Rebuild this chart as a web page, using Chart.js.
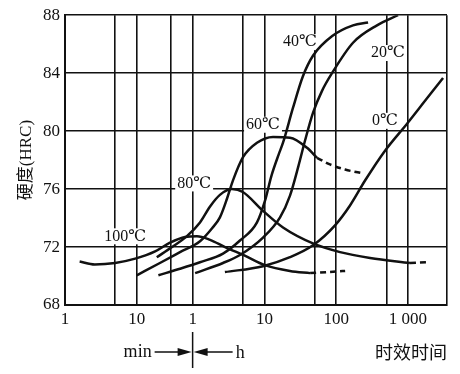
<!DOCTYPE html>
<html>
<head>
<meta charset="utf-8">
<script src="https://cdn.jsdelivr.net/npm/chart.js"></script>
<style>
  html, body { margin: 0; background: #fff; }
  #wrap { width: 460px; height: 374px; }
</style>
</head>
<body>
<div id="wrap"><canvas id="chart"></canvas></div>
<script>
// x values are ageing time in minutes (1 h = 60 min), y values are HRC
const gridMinutes = [1, 5, 10, 30, 60, 300, 600, 3000, 6000, 30000, 60000, 210000];
const labelMinutes = [1, 10, 60, 600, 6000, 60000];
const labelTexts = ["1", "10", "1", "10", "100", "1 000"];
const hrcTicks = [68, 72, 76, 80, 84, 88];

const c100 = [[1.6, 71.0], [2.6, 70.8], [5.0, 70.9], [9.5, 71.2], [18, 71.7], [29, 72.3], [47, 72.7], [69, 72.75], [105, 72.5], [170, 72.0], [320, 71.4], [610, 70.75], [1360, 70.35], [2600, 70.2]];
const c100Dash = [[2600, 70.2], [8000, 70.35]];
const c80 = [[19, 71.3], [31, 72.0], [50, 72.75], [76, 73.7], [105, 74.8], [144, 75.6], [212, 76.0], [300, 75.8], [574, 74.5], [1090, 73.35], [2850, 72.25], [6800, 71.65], [17800, 71.25], [64000, 70.9]];
const c80Dash = [[64000, 70.9], [114000, 70.95]];
const c60 = [[10, 70.05], [21, 70.9], [40, 71.65], [76, 72.4], [112, 73.3], [144, 74.05], [181, 75.35], [219, 76.6], [302, 78.2], [473, 79.2], [791, 79.6], [1364, 79.55], [2355, 78.85], [3244, 78.15]];
const c60Dash = [[3244, 78.15], [4922, 77.7], [7970, 77.35], [14670, 77.07]];
const c40 = [[20, 70.05], [40, 70.5], [76, 70.95], [159, 71.55], [274, 72.45], [473, 73.7], [612, 75.2], [750, 76.9], [950, 78.4], [1090, 79.2], [1500, 81.6], [2070, 83.8], [2850, 85.2], [5420, 86.6], [10300, 87.3], [16700, 87.5]];
const c20 = [[65, 70.2], [159, 70.9], [274, 71.45], [574, 72.65], [991, 74.05], [1364, 75.55], [1790, 77.6], [2210, 79.35], [2850, 81.26], [3811, 82.78], [5250, 84.0], [10300, 86.1], [22250, 87.3], [43670, 88.0]];
const c0 = [[169, 70.27], [574, 70.68], [1364, 71.3], [2850, 72.12], [5783, 73.5], [9355, 74.87], [15150, 76.59], [28760, 78.65], [58240, 80.51], [103800, 82.09], [185000, 83.67]];

const curveLabels = [
  { text: "100℃", x: 6.9, y: 72.74 },
  { text: "80℃", x: 63, y: 76.39 },
  { text: "60℃", x: 574, y: 80.44 },
  { text: "40℃", x: 1880, y: 86.14 },
  { text: "20℃", x: 31600, y: 85.39 },
  { text: "0℃", x: 28760, y: 80.71 },
];

const INK = "#111";
const SERIF = "'Liberation Serif', 'DejaVu Serif', serif";

const line = (data, dashed) => ({
  data,
  borderColor: INK,
  borderWidth: 2.5,
  borderDash: dashed ? [6, 4] : [],
  pointRadius: 0,
  fill: false,
  cubicInterpolationMode: "monotone",
});

const decor = {
  id: "decor",
  beforeDatasetsDraw(chart) {
    const { ctx, scales: { x, y } } = chart;
    ctx.save();
    ctx.font = "16px " + SERIF;
    ctx.textAlign = "center";
    ctx.textBaseline = "middle";
    curveLabels.forEach((l) => {
      const px = x.getPixelForValue(l.x);
      const py = y.getPixelForValue(l.y);
      const w = ctx.measureText(l.text).width;
      ctx.fillStyle = "#fff";
      ctx.fillRect(px - w / 2 - 2, py - 8, w + 4, 16);
      ctx.fillStyle = INK;
      ctx.fillText(l.text, px, py);
    });
    ctx.restore();
  },
  afterDraw(chart) {
    const { ctx, scales: { x } } = chart;
    const mid = x.getPixelForValue(60);
    const yy = 352;
    ctx.save();
    ctx.strokeStyle = INK;
    ctx.fillStyle = INK;
    ctx.lineWidth = 1.5;
    ctx.beginPath();
    ctx.moveTo(mid, 332); ctx.lineTo(mid, 368);
    ctx.moveTo(mid - 38, yy); ctx.lineTo(mid - 10, yy);
    ctx.moveTo(mid + 10, yy); ctx.lineTo(mid + 40, yy);
    ctx.stroke();
    ctx.beginPath();
    ctx.moveTo(mid - 1, yy); ctx.lineTo(mid - 15, yy - 4); ctx.lineTo(mid - 15, yy + 4); ctx.closePath();
    ctx.moveTo(mid + 1, yy); ctx.lineTo(mid + 15, yy - 4); ctx.lineTo(mid + 15, yy + 4); ctx.closePath();
    ctx.fill();
    ctx.font = "18px " + SERIF;
    ctx.textBaseline = "middle";
    ctx.textAlign = "right";
    ctx.fillText("min", mid - 41, yy);
    ctx.textAlign = "left";
    ctx.fillText("h", mid + 43, yy + 1);
    ctx.restore();
  },
};

new Chart(document.getElementById("chart"), {
  type: "line",
  data: {
    datasets: [
      line(c100), line(c100Dash, true),
      line(c80), line(c80Dash, true),
      line(c60), line(c60Dash, true),
      line(c40), line(c20), line(c0),
    ],
  },
  options: {
    responsive: true,
    maintainAspectRatio: false,
    animation: false,
    layout: { padding: { top: 14, right: 13, left: 0, bottom: 0 } },
    plugins: { legend: { display: false }, tooltip: { enabled: false } },
    scales: {
      x: {
        type: "logarithmic",
        min: 1,
        max: 210000,
        afterBuildTicks: (s) => { s.ticks = gridMinutes.map((v) => ({ value: v })); },
        afterFit: (s) => { s.height = 69; },
        ticks: {
          autoSkip: false,
          maxRotation: 0,
          padding: 4,
          color: INK,
          font: { family: SERIF, size: 17 },
          callback: (v) => {
            const i = labelMinutes.indexOf(v);
            return i < 0 ? "" : labelTexts[i];
          },
        },
        grid: { color: INK, lineWidth: 1.6, drawTicks: false },
        border: { color: INK, width: 2 },
        title: {
          display: true,
          text: "时效时间",
          align: "end",
          color: INK,
          font: { family: "'Noto Sans CJK SC', sans-serif", size: 18 },
          padding: { top: 0, bottom: 11 },
        },
      },
      y: {
        min: 68,
        max: 88,
        afterBuildTicks: (s) => { s.ticks = hrcTicks.map((v) => ({ value: v })); },
        afterFit: (s) => { s.width = 65; },
        ticks: { padding: 5, color: INK, font: { family: SERIF, size: 17 } },
        grid: { color: INK, lineWidth: 1.6, drawTicks: false },
        border: { color: INK, width: 2 },
        title: {
          display: true,
          text: "硬度(HRC)",
          color: INK,
          font: { family: "'Liberation Serif', 'Noto Sans CJK SC', serif", size: 17 },
          padding: { top: 16, bottom: 0 },
        },
      },
    },
  },
  plugins: [decor],
});
</script>
</body>
</html>
